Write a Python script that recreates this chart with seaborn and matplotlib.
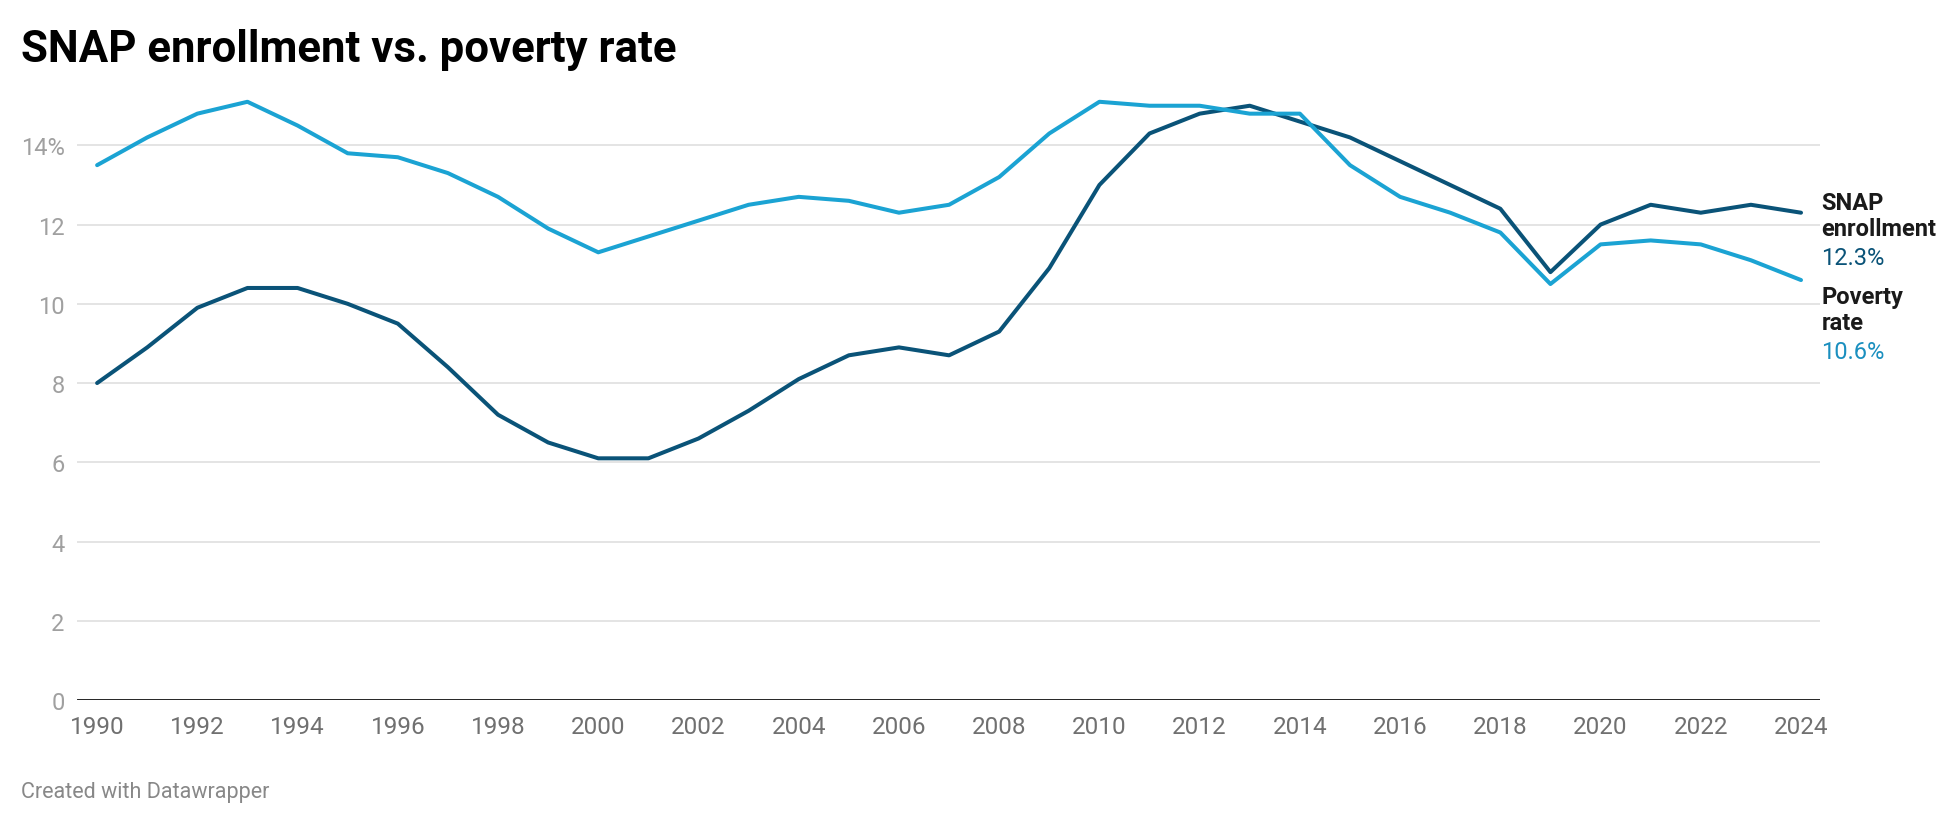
import numpy as np
import pandas as pd
import matplotlib.pyplot as plt
import seaborn as sns

years = list(range(1990, 2025))

snap_enrollment = [8.0, 8.9, 9.9, 10.4, 10.4, 10.0, 9.5, 8.4, 7.2, 6.5,
                   6.1, 6.1, 6.6, 7.3, 8.1, 8.7, 8.9, 8.7, 9.3, 10.9,
                   13.0, 14.3, 14.8, 15.0, 14.6, 14.2, 13.6, 13.0, 12.4, 10.8,
                   12.0, 12.5, 12.3, 12.5, 12.3]

poverty_rate = [13.5, 14.2, 14.8, 15.1, 14.5, 13.8, 13.7, 13.3, 12.7, 11.9,
                11.3, 11.7, 12.1, 12.5, 12.7, 12.6, 12.3, 12.5, 13.2, 14.3,
                15.1, 15.0, 15.0, 14.8, 14.8, 13.5, 12.7, 12.3, 11.8, 10.5,
                11.5, 11.6, 11.5, 11.1, 10.6]

series_names = ["SNAP enrollment", "Poverty rate"]
label_lines = ["SNAP\nenrollment", "Poverty\nrate"]
line_colors = ["#0a5378", "#1ba3d3"]
value_colors = ["#0a5378", "#1a8fbf"]

y_ticks = [0, 2, 4, 6, 8, 10, 12, 14]
y_tick_labels = ["0", "2", "4", "6", "8", "10", "12", "14%"]
x_ticks = list(range(1990, 2025, 2))

df = pd.DataFrame({
    "year": years * 2,
    "value": snap_enrollment + poverty_rate,
    "series": [series_names[0]] * len(years) + [series_names[1]] * len(years),
})

sns.set_style("white")
plt.rcParams['font.family'] = ['Roboto', 'DejaVu Sans']

fig = plt.figure(figsize=(19.56, 8.28), dpi=100)
ax = fig.add_axes([0.0394, 0.1534, 0.8911, 0.7464])

sns.lineplot(data=df, x="year", y="value", hue="series", palette=line_colors,
             linewidth=2.9, ax=ax, legend=False, zorder=3)

ax.set_xlim(1989.6, 2024.38)
ax.set_ylim(0, 15.6)
ax.set_yticks(y_ticks)
ax.set_yticklabels(y_tick_labels)
ax.set_xticks(x_ticks)
ax.set_xticklabels([str(x) for x in x_ticks])
ax.tick_params(axis="y", length=0, pad=9, labelsize=17, labelcolor="#a0a0a0")
ax.tick_params(axis="x", length=0, pad=11, labelsize=17.5, labelcolor="#707070")
ax.set_xlabel("")
ax.set_ylabel("")

for y in y_ticks[1:]:
    ax.axhline(y, color="#e2e2e2", linewidth=1.3, zorder=1)
ax.axhline(0, color="#111111", linewidth=2.0, zorder=2)

for s in ax.spines.values():
    s.set_visible(False)

# end labels
fs = 17
last_vals = [snap_enrollment[-1], poverty_rate[-1]]
tops = [last_vals[0] + 0.55, last_vals[1] - 0.12]
for name, val, top, col in zip(label_lines, last_vals, tops, value_colors):
    ax.annotate(name, xy=(2024.38, top), xytext=(1, 0), textcoords="offset points",
                ha="left", va="top", fontsize=fs, fontweight="bold", color="#1a1a1a",
                linespacing=1.15, annotation_clip=False)
    ax.annotate(f"{val}%", xy=(2024.38, top), xytext=(1, -2 * fs * 1.17), textcoords="offset points",
                ha="left", va="top", fontsize=fs, color=col, annotation_clip=False)

fig.text(21 / 1956, 0.925, "SNAP enrollment vs. poverty rate", fontsize=31.5,
         fontweight="bold", color="#000000", ha="left", va="baseline")
fig.text(21 / 1956, 0.036, "Created with Datawrapper", fontsize=15.5,
         color="#888888", ha="left", va="baseline")

fig.savefig("out.png", dpi=100)
